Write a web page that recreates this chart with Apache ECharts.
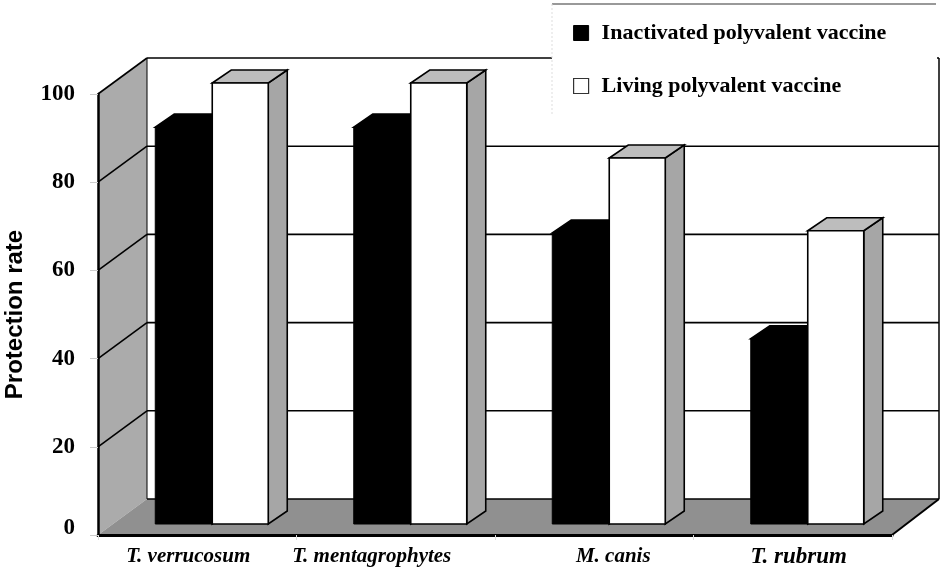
<!DOCTYPE html>
<html>
<head>
<meta charset="utf-8">
<style>html,body{margin:0;padding:0;background:#fff}#c{width:944px;height:574px}</style>
<script src="https://cdn.jsdelivr.net/npm/echarts@6/dist/echarts.min.js"></script>
</head>
<body>
<div id="c"></div>
<script>
var categories = ['T. verrucosum', 'T. mentagrophytes', 'M. canis', 'T. rubrum'];
var inactivated = [90, 90, 66, 42];
var living = [100, 100, 83, 66.5];
var yTicks = [0, 20, 40, 60, 80, 100];
var seriesNames = ['Inactivated polyvalent vaccine', 'Living polyvalent vaccine'];

var WALL = [49, -36], BAR = [15, -11], DEPTH = [19, -13], BAR_W = 57;
var SERIF = '"Liberation Serif", serif';

function poly(pts, fill, stroke, lw) {
  return {type: 'polygon', shape: {points: pts}, style: {fill: fill, stroke: stroke, lineWidth: lw, lineJoin: 'miter'}};
}
function line(a, b, lw) {
  return {type: 'line', shape: {x1: a[0], y1: a[1], x2: b[0], y2: b[1]}, style: {stroke: '#000', lineWidth: lw}};
}
function renderRoom(params, api) {
  var cs = params.coordSys, xl = cs.x, xr = cs.x + cs.width;
  var y0 = api.coord([0, 0])[1], y100 = api.coord([0, 100])[1];
  var dx = WALL[0], dy = WALL[1];
  var kids = [
    poly([[xl, y100], [xl + dx, y100 + dy], [xl + dx, y0 + dy], [xl, y0]], '#ababab', null, 0),
    poly([[xl, y0], [xl + dx, y0 + dy], [xr + dx - 2, y0 + dy], [xr, y0]], '#909090', null, 0),
    line([xl + dx, y100 + dy], [xl + dx, y0 + dy], 1),
    line([xl, y100], [xl + dx, y100 + dy], 1.6),
    line([xl + dx, y100 + dy], [xr + dx - 2, y100 + dy], 1.6),
    line([xl + dx, y0 + dy], [xr + dx - 2, y0 + dy], 1.5),
    line([xr + dx - 2, y100 + dy], [xr + dx - 2, y0 + dy], 1.5),
    line([xr + dx - 2, y0 + dy], [xr, y0], 2)
  ];
  yTicks.forEach(function (t) {
    if (t === 0 || t === 100) return;
    var y = api.coord([0, t])[1];
    kids.push(line([xl, y], [xl + dx, y + dy], 1.6));
    kids.push(line([xl + dx, y + dy], [xr + dx - 2, y + dy], 1.6));
  });
  return {type: 'group', children: kids};
}
function barRenderer(side, fill) {
  return function (params, api) {
    var c = api.coord([api.value(0), api.value(1)]);
    var b = api.coord([api.value(0), 0]);
    var mid = c[0] + BAR[0];
    var xa = side === 0 ? mid - BAR_W : mid, xb = side === 0 ? mid : mid + BAR_W - 1;
    var yt = c[1] + BAR[1], yb = b[1] + BAR[1];
    var dx = DEPTH[0], dy = DEPTH[1];
    var isBlack = side === 0;
    return {type: 'group', children: [
      poly([[xb, yt], [xb + dx, yt + dy], [xb + dx, yb + dy], [xb, yb]], isBlack ? '#000' : '#a6a6a6', '#000', 1.6),
      poly([[xa, yt], [xa + dx, yt + dy], [xb + dx, yt + dy], [xb, yt]], isBlack ? '#000' : '#bdbdbd', '#000', 1.6),
      poly([[xa, yt], [xb, yt], [xb, yb], [xa, yb]], fill, '#000', isBlack ? 1 : 1.6)
    ]};
  };
}
function pairs(arr) { return arr.map(function (v, i) { return [i, v]; }); }

var labelShift = {
  'T. verrucosum': 'a', 'T. mentagrophytes': 'b', 'M. canis': 'c', 'T. rubrum': 'd'
};
function xRich(size, pad) {
  return {fontFamily: SERIF, fontStyle: 'italic', fontWeight: 'bold', fontSize: size, color: '#000', padding: pad};
}

var chart = echarts.init(document.getElementById('c'), null, {renderer: 'canvas'});
chart.setOption({
  animation: false,
  backgroundColor: '#fff',
  grid: {left: 98, right: 52, top: 94, bottom: 39, outerBoundsMode: 'none'},
  legend: {
    orient: 'vertical', left: 568, top: 17, itemWidth: 15, itemHeight: 15, itemGap: 31, z: 6,
    align: 'left',
    data: [
      {name: seriesNames[0], icon: 'rect', itemStyle: {color: '#000', borderColor: '#000', borderWidth: 1}},
      {name: seriesNames[1], icon: 'rect', itemStyle: {color: '#fff', borderColor: '#333', borderWidth: 1.2}}
    ],
    textStyle: {fontFamily: SERIF, fontWeight: 'bold', fontSize: 22, color: '#000', padding: [0, 0, 0, 8]}
  },
  graphic: [
    {type: 'rect', z: 4, shape: {x: 552, y: 4, width: 385, height: 111}, style: {fill: '#fff'}},
    {type: 'line', z: 4, shape: {x1: 552, y1: 4, x2: 936, y2: 4}, style: {stroke: '#777', lineWidth: 1.5}},
    {type: 'line', z: 4, shape: {x1: 552, y1: 4, x2: 552, y2: 115}, style: {stroke: '#ddd', lineWidth: 1, lineDash: [2, 2]}}
  ],
  xAxis: {
    type: 'category', data: categories, z: 3,
    axisLine: {show: true, lineStyle: {color: '#000', width: 3}},
    axisTick: {show: true, length: 5, alignWithLabel: false, lineStyle: {color: '#ddd'}},
    axisLabel: {
      margin: 11, interval: 0,
      formatter: function (v) { return '{' + labelShift[v] + '|' + v + '}'; },
      rich: {
        a: xRich(21, [0, 18, 0, 0]),
        b: xRich(21, [0, 48, 0, 0]),
        c: xRich(21, [0, 0, 0, 38]),
        d: xRich(23, [0, 0, 0, 12])
      }
    }
  },
  yAxis: {
    type: 'value', min: 0, max: 100, interval: 20, z: 3,
    name: 'Protection rate', nameLocation: 'middle', nameGap: 71, nameRotate: 90,
    nameTextStyle: {fontFamily: '"Liberation Sans", sans-serif', fontWeight: 'bold', fontSize: 24, color: '#000'},
    splitLine: {show: false},
    axisLine: {show: true, lineStyle: {color: '#000', width: 2.5}},
    axisTick: {show: true, length: 8, lineStyle: {color: '#ccc'}},
    axisLabel: {
      margin: 23,
      formatter: function (v) { return v === 0 ? '{z|0}' : '{n|' + v + '}'; },
      rich: {
        n: {fontFamily: SERIF, fontWeight: 'bold', fontSize: 23, color: '#000'},
        z: {fontFamily: SERIF, fontWeight: 'bold', fontSize: 23, color: '#000', padding: [0, 0, 14, 0]}
      }
    }
  },
  series: [
    {type: 'custom', name: 'room', z: 1, silent: true, clip: false, renderItem: renderRoom, data: [[0, 0]], encode: {x: 0, y: 1}},
    {type: 'custom', name: seriesNames[0], z: 2, clip: false, itemStyle: {color: '#000'},
     renderItem: barRenderer(0, '#000'), data: pairs(inactivated), encode: {x: 0, y: 1}},
    {type: 'custom', name: seriesNames[1], z: 2, clip: false, itemStyle: {color: '#fff'},
     renderItem: barRenderer(1, '#fff'), data: pairs(living), encode: {x: 0, y: 1}}
  ]
});
</script>
</body>
</html>
